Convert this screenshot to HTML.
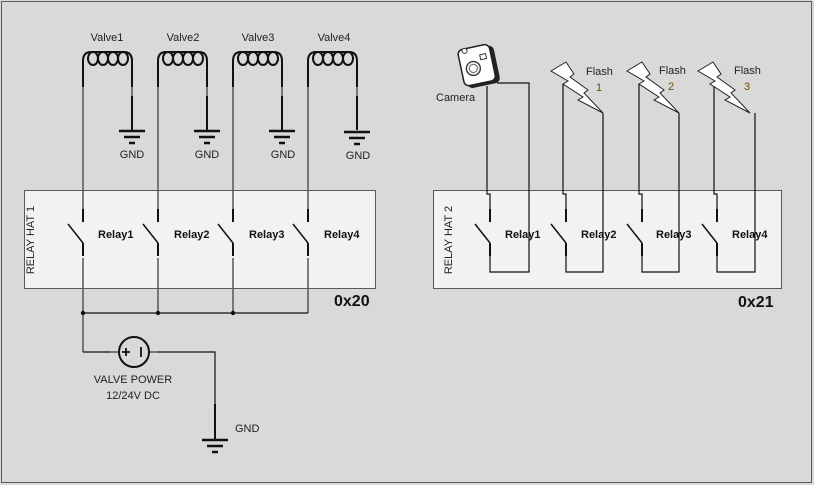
<!DOCTYPE html>
<html><head><meta charset="utf-8"><style>
html,body{margin:0;padding:0;background:#d9d9d9;}
svg{display:block;font-family:"Liberation Sans",sans-serif;}
</style></head><body>
<svg width="814" height="485" viewBox="0 0 814 485" xmlns="http://www.w3.org/2000/svg">
<rect x="0" y="0" width="814" height="485" fill="#d9d9d9"/>
<rect x="1.5" y="1.5" width="810" height="481" fill="none" stroke="#595959" stroke-width="1"/>
<rect x="24.5" y="190.5" width="351" height="98" fill="#f2f2f2" stroke="#595959"/>
<rect x="433.5" y="190.5" width="348" height="98" fill="#f2f2f2" stroke="#595959"/>
<text transform="translate(34,240) rotate(-90)" font-size="11" text-anchor="middle" fill="#222">RELAY HAT 1</text>
<text transform="translate(452,240) rotate(-90)" font-size="11" text-anchor="middle" fill="#222">RELAY HAT 2</text>
<text x="334" y="306" font-size="16" font-weight="bold" fill="#111">0x20</text>
<text x="738" y="307" font-size="16" font-weight="bold" fill="#111">0x21</text>

<defs>
<g id="coil" fill="none" stroke="#111" stroke-width="2">
  <path d="M0,35 V9 Q0,0 8,0 H41 Q49,0 49,9 V35"/>
  <ellipse cx="10" cy="6.5" rx="5" ry="6.5"/>
  <ellipse cx="20" cy="6.5" rx="5" ry="6.5"/>
  <ellipse cx="30" cy="6.5" rx="5" ry="6.5"/>
  <ellipse cx="40" cy="6.5" rx="5" ry="6.5"/>
</g>
<g id="gnd" stroke="#111" stroke-width="2.5">
  <line x1="-13" y1="0" x2="13" y2="0"/>
  <line x1="-8" y1="6" x2="8" y2="6"/>
  <line x1="-3" y1="12" x2="3" y2="12"/>
</g>
<g id="sw" fill="none" stroke-width="2">
  <line x1="0" y1="0" x2="0" y2="-13" stroke="#111"/>
  <line x1="-15" y1="2" x2="0" y2="21" stroke="#111" stroke-width="1.5"/>
  <line x1="0" y1="21" x2="0" y2="34" stroke="#111"/>
</g>
</defs>

<g font-size="11" fill="#222" text-anchor="middle">
<text x="107" y="41">Valve1</text><text x="183" y="41">Valve2</text>
<text x="258" y="41">Valve3</text><text x="334" y="41">Valve4</text>
<text x="132" y="158">GND</text><text x="207" y="158">GND</text>
<text x="283" y="158">GND</text><text x="358" y="159">GND</text>
</g>
<g>
<use href="#coil" x="83" y="52"/><use href="#coil" x="158" y="52"/>
<use href="#coil" x="233" y="52"/><use href="#coil" x="308" y="52"/>
</g>
<g fill="none" stroke="#555" stroke-width="1.5">
<line x1="83" y1="87" x2="83" y2="210"/><line x1="158" y1="87" x2="158" y2="210"/>
<line x1="233" y1="87" x2="233" y2="210"/><line x1="308" y1="87" x2="308" y2="210"/>
<line x1="132" y1="87" x2="132" y2="96"/><line x1="207" y1="87" x2="207" y2="96"/>
<line x1="282" y1="87" x2="282" y2="96"/><line x1="357" y1="87" x2="357" y2="96"/>
<line x1="83" y1="258" x2="83" y2="352"/><line x1="158" y1="258" x2="158" y2="313"/>
<line x1="233" y1="258" x2="233" y2="313"/><line x1="308" y1="258" x2="308" y2="313"/>
</g>
<g stroke="#111" stroke-width="2">
<line x1="132" y1="96" x2="132" y2="130"/><line x1="207" y1="96" x2="207" y2="130"/>
<line x1="282" y1="96" x2="282" y2="130"/><line x1="357" y1="96" x2="357" y2="130"/>
</g>
<use href="#gnd" x="132" y="131"/><use href="#gnd" x="207" y="131"/>
<use href="#gnd" x="282" y="131"/><use href="#gnd" x="357" y="132"/>
<g transform="translate(0,222)">
<use href="#sw" x="83" y="0"/><use href="#sw" x="158" y="0"/>
<use href="#sw" x="233" y="0"/><use href="#sw" x="308" y="0"/>
</g>
<g font-size="11" font-weight="bold" fill="#111">
<text x="98" y="238">Relay1</text><text x="174" y="238">Relay2</text>
<text x="249" y="238">Relay3</text><text x="324" y="238">Relay4</text>
</g>
<line x1="83" y1="313" x2="308" y2="313" stroke="#111" stroke-width="1.2"/>
<circle cx="83" cy="313" r="2.2" fill="#111"/><circle cx="158" cy="313" r="2.2" fill="#111"/><circle cx="233" cy="313" r="2.2" fill="#111"/>
<path d="M83,352 H110 M158,352 H215 V404" fill="none" stroke="#111" stroke-width="1.2"/>
<line x1="110" y1="352" x2="119" y2="352" stroke="#777" stroke-width="2"/>
<line x1="149" y1="352" x2="158" y2="352" stroke="#777" stroke-width="2"/>
<circle cx="134" cy="352" r="15" fill="none" stroke="#111" stroke-width="2"/>
<path d="M122,352 H130 M126,348 V356 M141,347 V357" stroke="#111" stroke-width="1.8"/>
<line x1="215" y1="404" x2="215" y2="440" stroke="#111" stroke-width="2"/>
<use href="#gnd" x="215" y="440"/>
<text x="133" y="383" font-size="11" text-anchor="middle" fill="#222">VALVE POWER</text>
<text x="133" y="399" font-size="11" text-anchor="middle" fill="#222">12/24V DC</text>
<text x="235" y="432" font-size="11" fill="#222">GND</text>

<g fill="none" stroke="#111" stroke-width="1.2">
<path d="M487,86 V194 H490 V209"/>
<path d="M490,256 V272 H529 V83 H497"/>
<path d="M563,84 V194 H566 V209"/>
<path d="M566,256 V272 H603 V113"/>
<path d="M639,84 V194 H642 V209"/>
<path d="M642,256 V272 H679 V113"/>
<path d="M714,84 V194 H717 V209"/>
<path d="M717,256 V272 H755 V113"/>
</g>
<g transform="translate(0,222)">
<use href="#sw" x="490" y="0"/><use href="#sw" x="566" y="0"/>
<use href="#sw" x="642" y="0"/><use href="#sw" x="717" y="0"/>
</g>
<g font-size="11" font-weight="bold" fill="#111">
<text x="505" y="238">Relay1</text><text x="581" y="238">Relay2</text>
<text x="656" y="238">Relay3</text><text x="732" y="238">Relay4</text>
</g>
<defs>
<polygon id="fl" points="0,9 15,0 23,12 19,15 37,28 33,31 52,51 27,38 32,35 12,22 17,19" fill="#fff" stroke="#222" stroke-width="1"/>
</defs>
<use href="#fl" x="551" y="62"/><use href="#fl" x="627" y="62"/><use href="#fl" x="698" y="62"/>
<g font-size="11" fill="#222">
<text x="586" y="75">Flash</text><text x="596" y="91" fill="#7a4a00">1</text>
<text x="659" y="74">Flash</text><text x="668" y="90" fill="#7a4a00">2</text>
<text x="734" y="74">Flash</text><text x="744" y="90" fill="#7a4a00">3</text>
</g>
<g transform="rotate(-12 480 66)">
<rect x="464" y="48" width="33" height="38" rx="5" fill="#222"/>
<rect x="461" y="46" width="32" height="37" rx="5" fill="#fff" stroke="#222" stroke-width="1.5"/>
<circle cx="473" cy="67" r="7" fill="#eee" stroke="#333" stroke-width="1.3"/>
<circle cx="473" cy="67" r="4" fill="#fff" stroke="#666"/>
<rect x="482" y="55" width="6" height="5" fill="#fff" stroke="#333"/>
<circle cx="468" cy="48" r="2.5" fill="#fff" stroke="#333"/>
</g>
<text x="436" y="101" font-size="11" fill="#222">Camera</text>
</svg>
</body></html>
